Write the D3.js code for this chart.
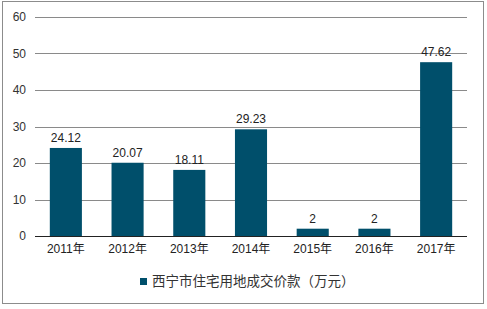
<!DOCTYPE html>
<html>
<head>
<meta charset="utf-8">
<script src="https://cdn.jsdelivr.net/npm/d3@7"></script>
<style>
  body { margin: 0; background: #fff; }
  text { font-family: "Liberation Sans", Arial, "Noto Sans CJK SC", sans-serif; }
</style>
</head>
<body>
<div id="plot"></div>
<script>
let years = ["2011年", "2012年", "2013年", "2014年", "2015年", "2016年", "2017年"]
let values = [24.12, 20.07, 18.11, 29.23, 2, 2, 47.62]
let yTicks = [0, 10, 20, 30, 40, 50, 60]
let seriesName = "西宁市住宅用地成交价款（万元）"

let svgWidth = 487
let svgHeight = 309

let margin = { top: 17, right: 20, bottom: 73, left: 35 }
let width = svgWidth - margin.left - margin.right
let height = svgHeight - margin.top - margin.bottom

let svg = d3.select("#plot")
  .append("svg")
  .attr("width", svgWidth)
  .attr("height", svgHeight)

// outer frame
svg.append("rect")
  .attr("x", 2.5)
  .attr("y", 1.5)
  .attr("width", 481)
  .attr("height", 302)
  .attr("fill", "none")
  .attr("stroke", "#8c8c8c")
  .attr("stroke-width", 1)

let chart = svg.append("g")
  .attr("transform", `translate(${margin.left}, ${margin.top})`)

let x = d3.scaleBand()
  .domain(years)
  .range([0, width])
  .paddingInner(0.48)
  .paddingOuter(0.24)

let y = d3.scaleLinear()
  .domain([0, 60])
  .range([height, 0])

// gridlines
chart.append("g")
  .selectAll("line")
  .data(yTicks.filter(d => d > 0))
  .enter()
  .append("line")
  .attr("x1", 0)
  .attr("x2", width)
  .attr("y1", d => Math.round(y(d)) + 0.5)
  .attr("y2", d => Math.round(y(d)) + 0.5)
  .attr("stroke", "#8a8a8a")

// y axis labels
let yAxis = d3.axisLeft(y).tickValues(yTicks).tickSize(0).tickPadding(9)
chart.append("g")
  .call(yAxis)
  .call(g => g.select(".domain").remove())
  .selectAll("text")
  .attr("font-size", 12)
  .attr("fill", "#333")
  .style("font-family", "'Liberation Sans', Arial, sans-serif")

// bars
chart.selectAll(".bar")
  .data(values)
  .enter()
  .append("rect")
  .attr("class", "bar")
  .attr("x", (d, i) => x(years[i]))
  .attr("width", x.bandwidth())
  .attr("y", d => y(d))
  .attr("height", d => height - y(d))
  .attr("fill", "#004f6b")

// value labels
chart.selectAll(".label")
  .data(values)
  .enter()
  .append("text")
  .attr("class", "label")
  .attr("x", (d, i) => x(years[i]) + x.bandwidth() / 2)
  .attr("y", d => y(d) - 6)
  .attr("text-anchor", "middle")
  .attr("font-size", 12)
  .attr("fill", "#222")
  .text(d => d)

// x axis
let xAxis = d3.axisBottom(x).tickSize(0).tickPadding(8)
chart.append("g")
  .attr("transform", `translate(0, ${height})`)
  .call(xAxis)
  .call(g => g.select(".domain").attr("stroke", "#222").attr("d", `M0,0.5H${width}`))
  .selectAll("text")
  .attr("font-size", 12)
  .attr("fill", "#222")
  .style("font-family", "'Liberation Sans', Arial, 'Noto Sans CJK SC', sans-serif")

// legend
let legend = svg.append("g")
  .attr("transform", "translate(140, 278)")
legend.append("rect")
  .attr("width", 7)
  .attr("height", 7)
  .attr("fill", "#004f6b")
legend.append("text")
  .attr("x", 12)
  .attr("y", 8)
  .attr("font-size", 13.5)
  .attr("fill", "#333")
  .text(seriesName)
</script>
</body>
</html>
